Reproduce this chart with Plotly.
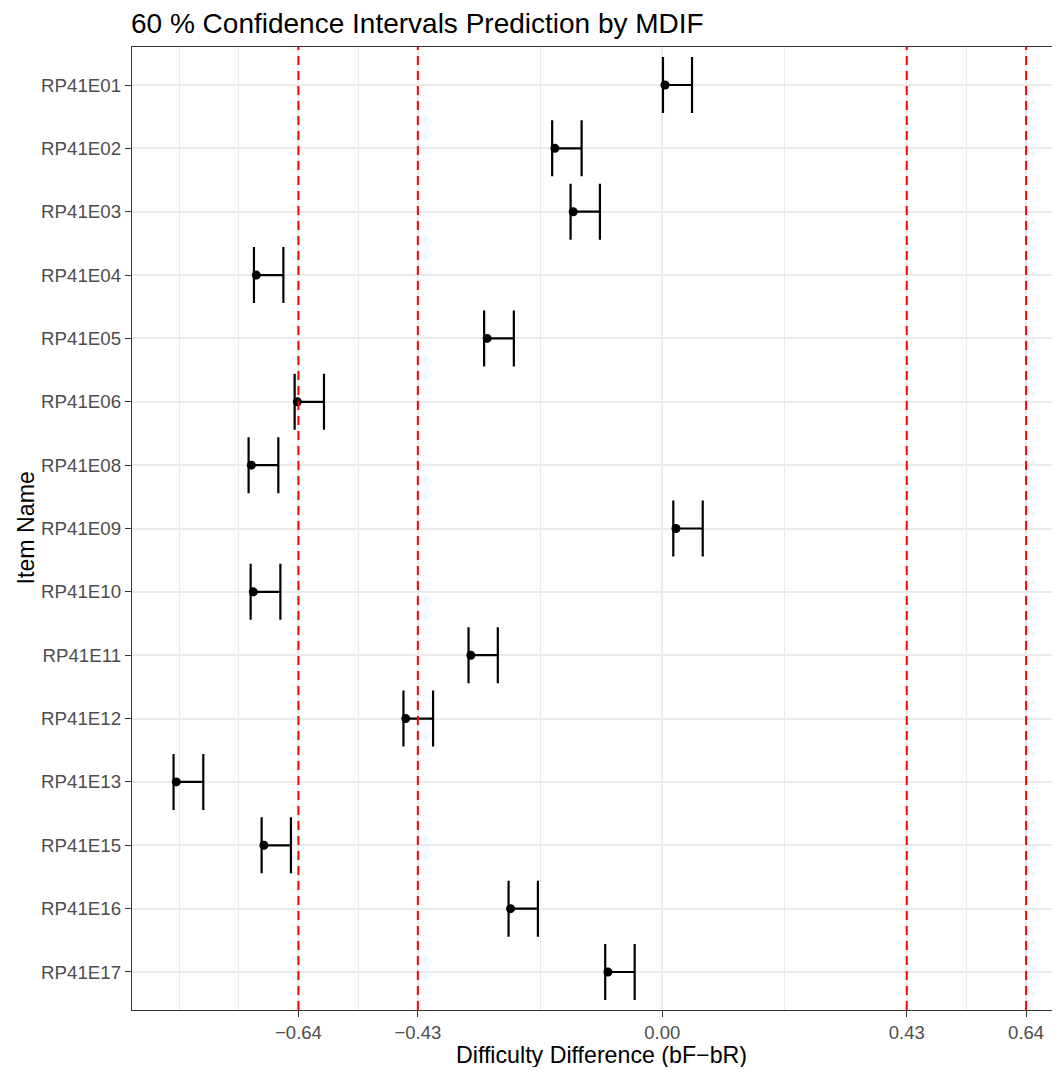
import plotly.graph_objects as go

items = ["RP41E01", "RP41E02", "RP41E03", "RP41E04", "RP41E05", "RP41E06", "RP41E08",
         "RP41E09", "RP41E10", "RP41E11", "RP41E12", "RP41E13", "RP41E15", "RP41E16", "RP41E17"]
estimate = [0.0048, -0.1889, -0.1567, -0.7141, -0.3081, -0.6419, -0.7229,
            0.0241, -0.7194, -0.3368, -0.4512, -0.8549, -0.7007, -0.2669, -0.0956]
lower = [0.0012, -0.1937, -0.1613, -0.7183, -0.3134, -0.6467, -0.7277,
         0.0194, -0.7241, -0.3408, -0.4553, -0.8597, -0.7048, -0.2704, -0.1004]
upper = [0.0523, -0.1419, -0.1097, -0.6665, -0.2611, -0.5951, -0.6754,
         0.0711, -0.6718, -0.2893, -0.4032, -0.8074, -0.6532, -0.2188, -0.0486]
ref_lines = [-0.64, -0.43, 0.43, 0.64]
x_ticks = [-0.64, -0.43, 0.00, 0.43, 0.64]
x_ticklabels = ["\u22120.64", "\u22120.43", "0.00", "0.43", "0.64"]
x_minor = [-0.85, -0.745, -0.535, -0.215, 0.215, 0.535]

FONT = "Liberation Sans, Arial, Helvetica, sans-serif"

# page body has an 8px default margin
W, H = 1052, 1059

fig = go.Figure()
fig.add_trace(go.Scatter(
    x=estimate, y=items, mode="markers",
    marker=dict(color="black", size=9, line=dict(width=0)),
    error_x=dict(type="data", symmetric=False,
                 array=[u - e for u, e in zip(upper, estimate)],
                 arrayminus=[e - l for e, l in zip(estimate, lower)],
                 color="black", thickness=2.2, width=28),
    showlegend=False, hoverinfo="skip",
))

for v in ref_lines:
    fig.add_shape(type="line", x0=v, x1=v, xref="x", y0=0, y1=1, yref="paper",
                  line=dict(color="#FF0000", width=2, dash="9px,6px"), layer="above")

n = len(items)
fig.update_layout(
    width=W, height=H,
    margin=dict(l=124, r=0, t=39, b=57),
    paper_bgcolor="white", plot_bgcolor="white",
    font=dict(family=FONT, color="#4D4D4D"),
    title=dict(text="60 % Confidence Intervals Prediction by MDIF",
               font=dict(size=28, color="black", family=FONT),
               x=123 / W, xanchor="left", xref="container",
               y=1 - 15 / H, yanchor="middle", yref="container"),
    xaxis=dict(range=[-0.9328, 0.6996], tickmode="array", tickvals=x_ticks,
               ticktext=x_ticklabels, tickfont=dict(size=18.5, color="#4D4D4D"),
               ticks="outside", ticklen=6, tickwidth=1.3, tickcolor="#333333",
               showgrid=True, gridcolor="#EBEBEB", gridwidth=2,
               minor=dict(tickvals=x_minor, showgrid=True, gridcolor="#EBEBEB",
                          gridwidth=1.1, ticks=""),
               showline=True, linecolor="#333333", linewidth=1.3, mirror=True,
               zeroline=False),
    yaxis=dict(type="category", categoryorder="array", categoryarray=items,
               range=[n - 1 + 0.6, -0.6], tickfont=dict(size=18.7, color="#4D4D4D"),
               ticks="outside", ticklen=6, tickwidth=1.3, tickcolor="#333333",
               showgrid=True, gridcolor="#EBEBEB", gridwidth=2,
               showline=True, linecolor="#333333", linewidth=1.3, mirror=False,
               zeroline=False),
)

fig.add_annotation(text="Difficulty Difference (bF\u2212bR)", xref="paper", yref="paper",
                   x=(601 - 132) / 928, y=(1010 - 1055) / 963, xanchor="center", yanchor="middle",
                   showarrow=False, font=dict(size=23.2, color="black", family=FONT))
fig.add_annotation(text="Item Name", xref="paper", yref="paper",
                   x=(25 - 132) / 928, y=0.5, xanchor="center", yanchor="middle",
                   textangle=-90, showarrow=False,
                   font=dict(size=23.2, color="black", family=FONT))

fig.write_html("out.html")
